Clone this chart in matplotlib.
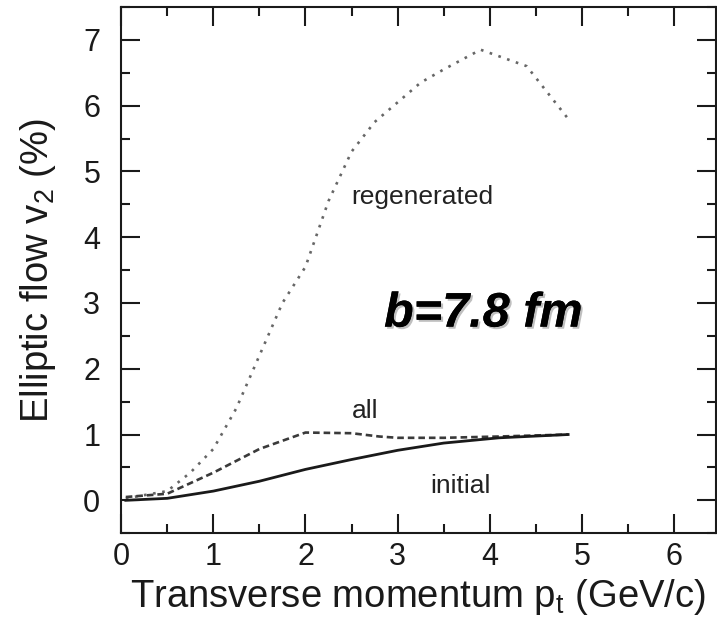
import matplotlib.pyplot as plt
import matplotlib.patheffects as pe
from matplotlib.ticker import MultipleLocator

plt.rcParams['font.family'] = ['Liberation Sans', 'DejaVu Sans']

# v2 (%) vs pt (GeV/c)
pt_regen = [0.05, 0.5, 0.75, 1.0, 1.25, 1.5, 1.75, 2.0, 2.25, 2.5, 2.75, 3.0, 3.25, 3.5, 3.9, 4.4, 4.85]
v2_regen = [0.03, 0.14, 0.42, 0.78, 1.4, 2.2, 3.0, 3.55, 4.55, 5.3, 5.75, 6.05, 6.35, 6.55, 6.85, 6.6, 5.8]

pt_all = [0.05, 0.5, 1.0, 1.5, 2.0, 2.5, 2.8, 3.0, 3.5, 4.1, 4.85]
v2_all = [0.05, 0.1, 0.42, 0.78, 1.03, 1.02, 0.97, 0.95, 0.95, 0.97, 1.0]

pt_init = [0.05, 0.5, 1.0, 1.5, 2.0, 2.5, 3.0, 3.5, 4.1, 4.85]
v2_init = [0.0, 0.03, 0.14, 0.29, 0.47, 0.62, 0.76, 0.87, 0.95, 1.0]

fig = plt.figure(figsize=(7.17, 6.31), dpi=100)
ax = fig.add_axes([0.169, 0.155, 0.829, 0.834])

ax.plot(pt_regen, v2_regen, color='#666666', lw=1.9, linestyle=(0, (1, 2.5)))
ax.plot(pt_all, v2_all, color='#3a3a3a', lw=1.9, linestyle=(0, (2.5, 1.5)))
ax.plot(pt_init, v2_init, color='#1a1a1a', lw=2)

ax.text(3.27, 4.61, 'regenerated', fontsize=19, ha='center', va='center', color='#222222')
ax.text(2.65, 1.35, 'all', fontsize=19, ha='center', va='center', color='#222222')
ax.text(3.68, 0.21, 'initial', fontsize=19, ha='center', va='center', color='#222222')
ax.text(3.93, 2.83, 'b=7.8 fm', fontsize=35, fontweight='bold', fontstyle='italic',
        ha='center', va='center', color='black',
        path_effects=[pe.withSimplePatchShadow(offset=(1.5, -1.5), alpha=0.25), pe.Normal()])

ax.set_xlim(0, 6.45)
ax.set_ylim(-0.5, 7.5)
ax.xaxis.set_major_locator(MultipleLocator(1))
ax.xaxis.set_minor_locator(MultipleLocator(0.5))
ax.yaxis.set_major_locator(MultipleLocator(1))
ax.yaxis.set_minor_locator(MultipleLocator(0.5))
ax.tick_params(which='both', direction='in', top=True, right=True, width=1.5, color='#1a1a1a')
ax.tick_params(which='major', length=14, labelsize=22, labelcolor='#1a1a1a')
ax.tick_params(which='minor', length=6.5)
ax.tick_params(axis='y', which='major', pad=15)
ax.tick_params(axis='x', which='major', pad=6)
for s in ax.spines.values():
    s.set_linewidth(1.5)
    s.set_color('#1a1a1a')

ax.set_xlabel('Transverse momentum p$_{\\mathregular{t}}$ (GeV/c)', fontsize=27.5, color='#1a1a1a', labelpad=4)
ax.set_ylabel('Elliptic flow v$_{\\mathregular{2}}$ (%)', fontsize=27.5, color='#1a1a1a', labelpad=18)

fig.savefig('out.png', dpi=100)
